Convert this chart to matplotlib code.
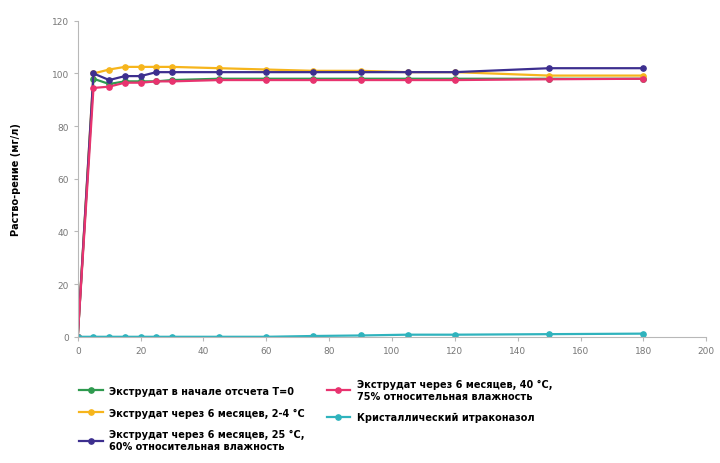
import matplotlib
matplotlib.use('Agg')
import matplotlib.pyplot as plt

# time points (min)
t = [0, 5, 10, 15, 20, 25, 30, 45, 60, 75, 90, 105, 120, 150, 180]

t0 = [0, 98, 96, 97, 97, 97, 97.5, 98, 98, 98, 98, 98, 98, 98, 98]
m6_2_4 = [0, 100, 101.5, 102.5, 102.5, 102.5, 102.5, 102, 101.5, 101, 101, 100.5, 100.5, 99.2, 99.2]
m6_25 = [0, 100, 97.5, 99, 99, 100.5, 100.5, 100.5, 100.5, 100.5, 100.5, 100.5, 100.5, 102, 102]
m6_40 = [0, 94.5, 95, 96.5, 96.5, 97, 97, 97.5, 97.5, 97.5, 97.5, 97.5, 97.5, 97.8, 98]
cryst = [0, 0, 0, 0, 0, 0, 0, 0, 0, 0.3, 0.5, 0.8, 0.8, 1.0, 1.2]

labels = ['Экструдат в начале отсчета T=0',
          'Экструдат через 6 месяцев, 2-4 °C',
          'Экструдат через 6 месяцев, 25 °C,\n60% относительная влажность',
          'Экструдат через 6 месяцев, 40 °C,\n75% относительная влажность',
          'Кристаллический итраконазол']
colors = ['#2f9a4f', '#f6b51c', '#3d2f8f', '#e8336f', '#2fb3bd']
series = [t0, m6_2_4, m6_25, m6_40, cryst]

fig = plt.figure(figsize=(7.2, 4.64), dpi=100)
ax = fig.add_axes([0.108, 0.272, 0.873, 0.681])

for y, c, lab in zip(series, colors, labels):
    ax.plot(t, y, color=c, lw=1.6, marker='o', ms=3.8, label=lab)

ax.set_xlim(0, 200)
ax.set_ylim(0, 120)
ax.set_xticks(range(0, 201, 20))
ax.set_yticks(range(0, 121, 20))
for s in ['top', 'right']:
    ax.spines[s].set_visible(False)
for s in ['left', 'bottom']:
    ax.spines[s].set_color('#b8b8b8')
ax.tick_params(colors='#b8b8b8', labelcolor='#777777', labelsize=6.5, length=3)
ax.set_ylabel('Раство-рение (мг/л)', fontsize=7, fontweight='bold', labelpad=22)

fig.legend(loc='upper left', bbox_to_anchor=(0.098, 0.2), ncol=2, frameon=False,
           prop={'weight': 'bold', 'size': 7}, handlelength=2.4, handletextpad=0.7,
           columnspacing=2.2, labelspacing=1.2)

plt.savefig('out.png', dpi=100)
